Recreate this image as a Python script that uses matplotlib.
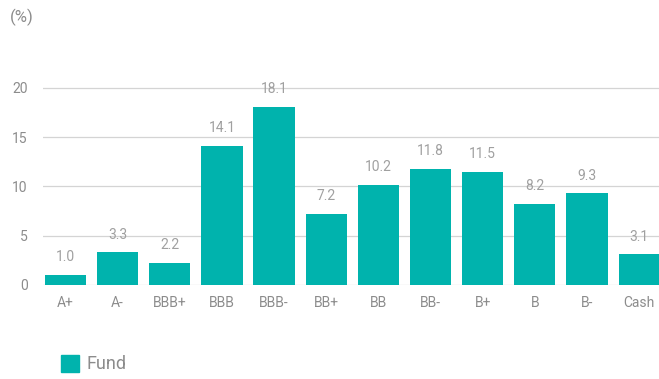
import matplotlib.pyplot as plt
from matplotlib.patches import Patch

categories = ['A+', 'A-', 'BBB+', 'BBB', 'BBB-', 'BB+', 'BB', 'BB-', 'B+', 'B', 'B-', 'Cash']
fund = [1.0, 3.3, 2.2, 14.1, 18.1, 7.2, 10.2, 11.8, 11.5, 8.2, 9.3, 3.1]
yticks = [0, 5, 10, 15, 20]

teal = '#00b3ad'
grey = '#8c8c8c'

plt.rcParams['font.family'] = ['Roboto', 'DejaVu Sans']

fig = plt.figure(figsize=(6.59, 3.79), dpi=100)
ax = fig.add_axes([43 / 659, 1 - 285 / 379, 616 / 659, (285 - 38.75) / 379])

x = range(len(categories))
ax.bar(x, fund, width=0.79, color=teal, zorder=2)
for xi, v in zip(x, fund):
    ax.text(xi, v + 1.1, f'{v:.1f}', ha='center', va='bottom', fontsize=10, color='#a0a0a0')

ax.set_xlim(-0.43, 11.38)
ax.set_ylim(0, 25)
ax.set_yticks(yticks)
ax.set_xticks(list(x))
ax.set_xticklabels(categories)
ax.tick_params(axis='both', length=0, colors=grey, labelsize=10)
ax.tick_params(axis='x', pad=8)
ax.tick_params(axis='y', pad=11)
ax.grid(axis='y', color='#d4d4d4', linewidth=0.9, zorder=0)
for s in ax.spines.values():
    s.set_visible(False)

fig.text(10 / 659, 1 - 17 / 379, '(%)', fontsize=12, color=grey, va='center')
fig.legend(handles=[Patch(color=teal, label='Fund')], loc='center left',
           bbox_to_anchor=(45 / 659, 1 - 364 / 379), frameon=False,
           fontsize=13, labelcolor=grey, handlelength=1.0, handleheight=1.1,
           handletextpad=0.4)

fig.savefig('out.png', dpi=100)
